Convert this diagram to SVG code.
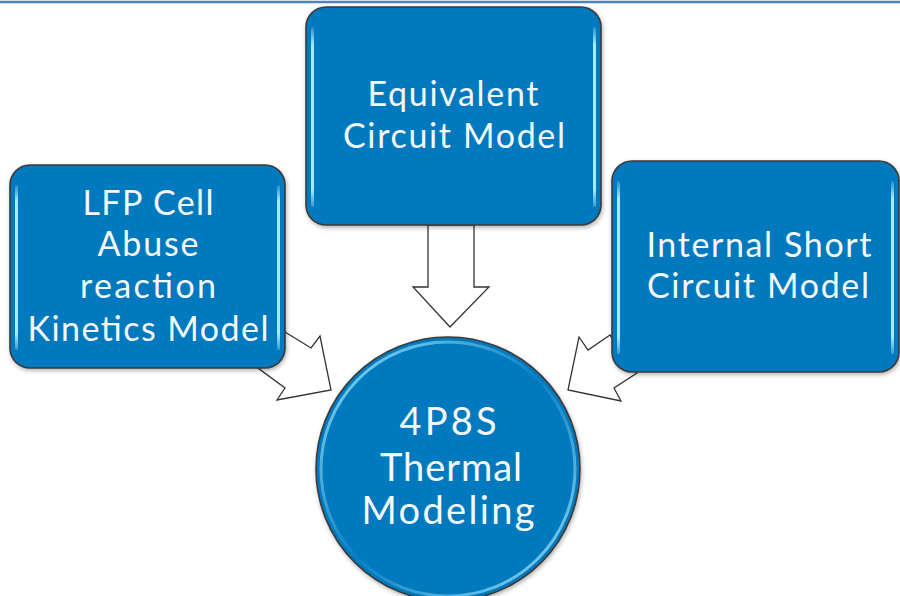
<svg xmlns="http://www.w3.org/2000/svg" width="900" height="596" viewBox="0 0 900 596">
  <style>
    .box { fill: #0479be; stroke: #3b3b3b; stroke-width: 1.6; }
    .hl { fill: url(#hlv); }
    .lbl { font-family: "Lato", "Liberation Sans", sans-serif; font-size: 34px; fill: #f4f8fb; text-anchor: middle; }
    .big { font-size: 38px; }
    .arrow { fill: #ffffff; stroke: #333333; stroke-width: 1.3; stroke-linejoin: miter; }
  </style>
  <defs>
    <linearGradient id="hlv" x1="0" y1="0" x2="0" y2="1">
      <stop offset="0" stop-color="#a6ecff" stop-opacity="0.2"/>
      <stop offset="0.1" stop-color="#a6ecff" stop-opacity="1"/>
      <stop offset="0.9" stop-color="#a6ecff" stop-opacity="1"/>
      <stop offset="1" stop-color="#a6ecff" stop-opacity="0.3"/>
    </linearGradient>
    <linearGradient id="rim" x1="0" y1="0" x2="1" y2="1">
      <stop offset="0" stop-color="#a6ecff" stop-opacity="0.9"/>
      <stop offset="0.5" stop-color="#a6ecff" stop-opacity="0.05"/>
      <stop offset="1" stop-color="#a6ecff" stop-opacity="0.9"/>
    </linearGradient>
    <filter id="sh" x="-10%" y="-10%" width="120%" height="125%">
      <feDropShadow dx="1" dy="2" stdDeviation="2" flood-color="#000" flood-opacity="0.3"/>
    </filter>
  </defs>
  <line x1="0" y1="2" x2="900" y2="2" stroke="#4f81bd" stroke-width="2.5"/>

  <g id="connectors">
    <polygon class="arrow" points="428,225 474,225 474,287 489,287 450,327 413,287 428,287"/>
    <polygon class="arrow" points="285,332 311,348 320,336 331,390 277,400 285,388 258,368"/>
    <polygon class="arrow" points="610,335 588,350 579,337 568,390 621,401 614,388 637,373"/>
  </g>

  <g id="node-equivalent">
    <rect class="box" x="306" y="7" width="295" height="218" rx="20" filter="url(#sh)"/>
    <rect class="hl" x="311" y="27" width="3" height="180" rx="1.5"/>
    <rect class="hl" x="593" y="27" width="3" height="180" rx="1.5"/>
    <text class="lbl" x="453" y="106" textLength="171" lengthAdjust="spacing">Equivalent</text>
    <text class="lbl" x="454" y="148" textLength="222" lengthAdjust="spacing">Circuit Model</text>
  </g>

  <g id="node-lfp">
    <rect class="box" x="10" y="165" width="275" height="203" rx="20" filter="url(#sh)"/>
    <rect class="hl" x="15" y="185" width="3" height="165" rx="1.5"/>
    <rect class="hl" x="277" y="185" width="3" height="165" rx="1.5"/>
    <text class="lbl" x="148" y="215" textLength="131" lengthAdjust="spacing">LFP Cell</text>
    <text class="lbl" x="148" y="256" textLength="101" lengthAdjust="spacing">Abuse</text>
    <text class="lbl" x="148" y="298" textLength="136" lengthAdjust="spacing">reaction</text>
    <text class="lbl" x="148" y="341" textLength="241" lengthAdjust="spacing">Kinetics Model</text>
  </g>

  <g id="node-isc">
    <rect class="box" x="612" y="161" width="287" height="211" rx="20" filter="url(#sh)"/>
    <rect class="hl" x="617" y="181" width="3" height="173" rx="1.5"/>
    <rect class="hl" x="891" y="181" width="3" height="173" rx="1.5"/>
    <text class="lbl" x="759" y="257" textLength="225" lengthAdjust="spacing">Internal Short</text>
    <text class="lbl" x="758" y="298" textLength="222" lengthAdjust="spacing">Circuit Model</text>
  </g>

  <g id="node-thermal">
    <circle cx="448" cy="469" r="132" fill="#0479be" stroke="#3b3b3b" stroke-width="1.6" filter="url(#sh)"/>
    <circle cx="448" cy="469" r="127" fill="none" stroke="url(#rim)" stroke-width="3"/>
    <text class="lbl big" x="448" y="435" textLength="97" lengthAdjust="spacing">4P8S</text>
    <text class="lbl big" x="451" y="481" textLength="142" lengthAdjust="spacing">Thermal</text>
    <text class="lbl big" x="448" y="524" textLength="173" lengthAdjust="spacing">Modeling</text>
  </g>
</svg>
